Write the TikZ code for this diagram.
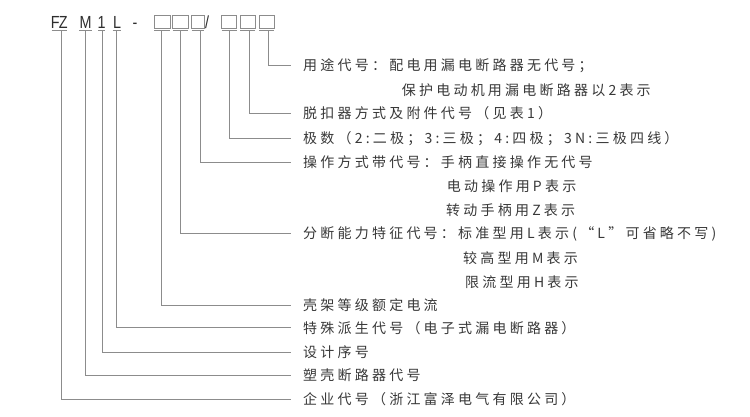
\documentclass[tikz,border=0pt]{standalone}
\usepackage{fontspec}
\usetikzlibrary{calc}
\newfontfamily\cjk[LetterSpace=23]{Noto Sans CJK SC}
\newfontfamily\hdr[FakeStretch=0.82]{Liberation Sans}
\definecolor{txtc}{HTML}{383838}
\definecolor{hdrc}{HTML}{2E2E2E}
\definecolor{linec}{HTML}{8C8C8C}
\tikzset{
  lbl/.style={anchor=west,inner sep=0pt,text=txtc,font=\cjk\fontsize{14}{14}\selectfont,text height=12.3pt,text depth=1.7pt},
  hch/.style={anchor=base,inner sep=0pt,text=hdrc,font=\hdr\fontsize{17.5}{17.5}\selectfont},
  cbox/.style={draw=linec,line width=0.9pt},
  uline/.style={draw=linec,line width=1pt},
  conn/.style={draw=linec,line width=0.8pt}
}
\begin{document}
\begin{tikzpicture}[x=1pt,y=-1pt]
\useasboundingbox (0,0) rectangle (750,416);
% header characters
\node[hch] (hF) at (55.2,28) {F};
\node[hch] (hZ) at (63.2,28) {Z};
\node[hch] (hM) at (85.5,28) {M};
\node[hch] (h1) at (101.7,28) {1};
\node[hch] (hL) at (117,28) {L};
\node[hch] (hd) at (135,28) {-};
\node[hch] (hs) at (207,28) {/};
% boxes
\node[cbox,minimum width=15.7pt,minimum height=13pt,inner sep=0pt] (b1) at (162.2,21.8) {};
\node[cbox,minimum width=15.7pt,minimum height=13pt,inner sep=0pt] (b2) at (180.5,21.8) {};
\node[cbox,minimum width=12.3pt,minimum height=13pt,inner sep=0pt] (b3) at (197.9,21.8) {};
\node[cbox,minimum width=15pt,minimum height=13pt,inner sep=0pt] (b4) at (229.2,21.8) {};
\node[cbox,minimum width=15pt,minimum height=13pt,inner sep=0pt] (b5) at (247.5,21.8) {};
\node[cbox,minimum width=14.7pt,minimum height=13pt,inner sep=0pt] (b6) at (266.7,21.8) {};
% underlines
\draw[uline] (51.7,30.6) -- (66.7,30.6);
\draw[uline] (79.3,30.6) -- (91.7,30.6);
\draw[uline] (98.3,30.6) -- (105,30.6);
\draw[uline] (112.7,30.6) -- (121,30.6);
\draw[uline] (154.3,30.6) -- (170,30.6);
\draw[uline] (172.7,30.6) -- (188.3,30.6);
\draw[uline] (191.7,30.6) -- (204,30.6);
\draw[uline] (221.7,30.6) -- (236.7,30.6);
\draw[uline] (240,30.6) -- (255,30.6);
\draw[uline] (259.3,30.6) -- (274,30.6);
% connector start points
\coordinate (sF) at (61.7,31);
\coordinate (sM) at (85.7,31);
\coordinate (s1) at (102.3,31);
\coordinate (sL) at (116.3,31);
\coordinate (s1b) at (161.7,31);
\coordinate (s2b) at (180.7,31);
\coordinate (s3b) at (200,31);
\coordinate (s4b) at (229.3,31);
\coordinate (s5b) at (249,31);
\coordinate (s6b) at (268.5,31);
% labels
\node[lbl] (t1) at (303,65) {用途代号：配电用漏电断路器无代号；};
\node[lbl] (t1b) at (401.7,90) {保护电动机用漏电断路器以2表示};
\node[lbl] (t2) at (303,113.5) {脱扣器方式及附件代号（见表1）};
\node[lbl] (t3) at (303,138.3) {极数（2:二极；3:三极；4:四极；3N:三极四线）};
\node[lbl] (t4) at (303,162.3) {操作方式带代号：手柄直接操作无代号};
\node[lbl] (t4b) at (446.7,186) {电动操作用P表示};
\node[lbl] (t4c) at (446,210) {转动手柄用Z表示};
\node[lbl] (t5) at (303,233) {分断能力特征代号：标准型用L表示(“L”可省略不写)};
\node[lbl] (t5b) at (463,258) {较高型用M表示};
\node[lbl] (t5c) at (465,282) {限流型用H表示};
\node[lbl] (t6) at (303,305) {壳架等级额定电流};
\node[lbl] (t7) at (303,327.7) {特殊派生代号（电子式漏电断路器）};
\node[lbl] (t8) at (303,352.5) {设计序号};
\node[lbl] (t9) at (303,375) {塑壳断路器代号};
\node[lbl] (t10) at (303,399.3) {企业代号（浙江富泽电气有限公司）};
% connectors
\draw[conn] (s6b) |- ($(t1.west)+(-12,0)$);
\draw[conn] (s5b) |- ($(t2.west)+(-12,0)$);
\draw[conn] (s4b) |- ($(t3.west)+(-12,0)$);
\draw[conn] (s3b) |- ($(t4.west)+(-12,0)$);
\draw[conn] (s2b) |- ($(t5.west)+(-12,0)$);
\draw[conn] (s1b) |- ($(t6.west)+(-12,0)$);
\draw[conn] (sL) |- ($(t7.west)+(-12,0)$);
\draw[conn] (s1) |- ($(t8.west)+(-12,0)$);
\draw[conn] (sM) |- ($(t9.west)+(-12,0)$);
\draw[conn] (sF) |- ($(t10.west)+(-12,0)$);
\end{tikzpicture}
\end{document}
